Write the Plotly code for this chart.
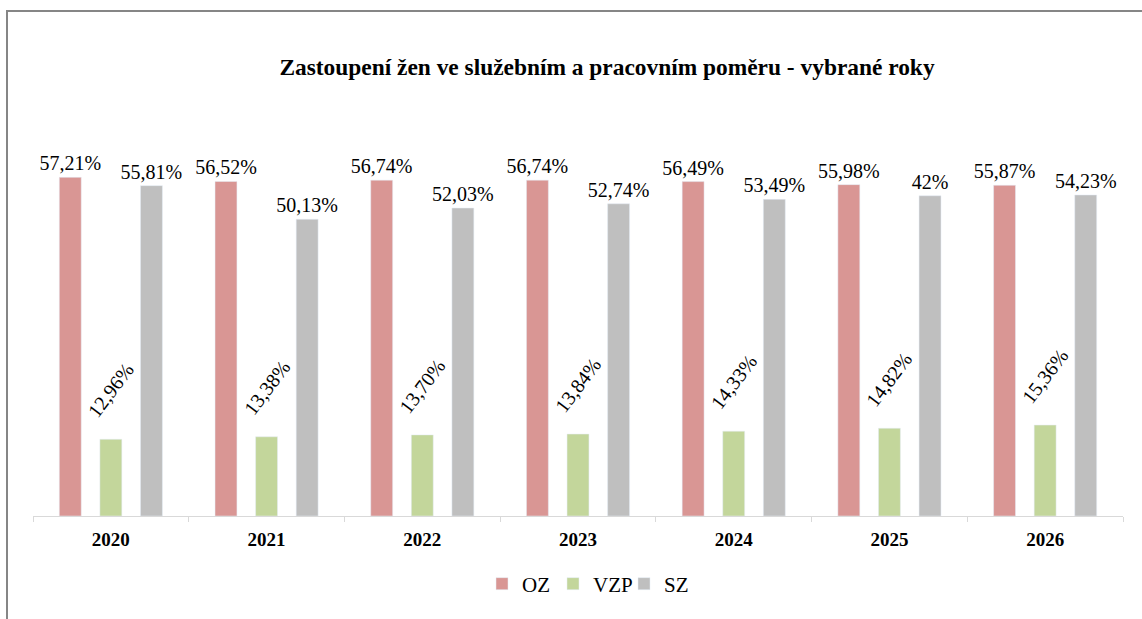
import plotly.graph_objects as go

years = ["2020", "2021", "2022", "2023", "2024", "2025", "2026"]
oz = [57.21, 56.52, 56.74, 56.74, 56.49, 55.98, 55.87]
vzp = [12.96, 13.38, 13.70, 13.84, 14.33, 14.82, 15.36]
sz = [55.81, 50.13, 52.03, 52.74, 53.49, 54.10, 54.23]
oz_labels = ["57,21%", "56,52%", "56,74%", "56,74%", "56,49%", "55,98%", "55,87%"]
vzp_labels = ["12,96%", "13,38%", "13,70%", "13,84%", "14,33%", "14,82%", "15,36%"]
sz_labels = ["55,81%", "50,13%", "52,03%", "52,74%", "53,49%", "42%", "54,23%"]

FONT = "Liberation Serif"
W, H = 1142, 619
L, R, T, B = 33, 19, 149, 103
pw = W - L - R
ph = H - T - B
LABEL_FONT = dict(family=FONT, size=20, color="#000000")

fig = go.Figure()
fig.add_trace(go.Bar(name="OZ", x=years, y=oz, text=oz_labels, marker_color="#D99694",
                     textposition="outside", textangle=0, constraintext="none",
                     cliponaxis=False, textfont=LABEL_FONT, hoverinfo="skip"))
fig.add_trace(go.Bar(name="VZP", x=years, y=vzp, marker_color="#C3D69B",
                     cliponaxis=False, hoverinfo="skip"))
fig.add_trace(go.Bar(name="SZ", x=years, y=sz, text=sz_labels, marker_color="#BFBFBF",
                     textposition="outside", textangle=0, constraintext="none",
                     cliponaxis=False, textfont=LABEL_FONT, hoverinfo="skip"))

# VZP bar is the middle bar of each group, i.e. it sits on the category centre
annotations = [
    dict(x=i, y=v, xref="x", yref="y", text=t, showarrow=False,
         textangle=-53, xanchor="center", yanchor="bottom", yshift=15,
         font=LABEL_FONT)
    for i, (v, t) in enumerate(zip(vzp, vzp_labels))
]

fig.update_layout(
    width=W, height=H,
    margin=dict(l=L, r=R, t=T, b=B),
    paper_bgcolor="white", plot_bgcolor="white",
    barmode="group", bargap=0.218, bargroupgap=0.46,
    title=dict(text="<b>Zastoupení žen ve služebním a pracovním poměru - vybrané roky</b>",
               font=dict(family=FONT, size=23.4, color="#000000"),
               x=(607 - L) / pw, xref="paper", xanchor="center",
               y=1 - 67 / H, yref="container", yanchor="middle"),
    xaxis=dict(type="category", range=[-0.5, 6.5], showline=True, linecolor="#D9D9D9", linewidth=1,
               ticks="outside", tickson="boundaries", ticklen=5, tickcolor="#D9D9D9",
               tickfont=dict(family=FONT, size=19, color="#000000"), tickangle=0,
               ticklabelstandoff=6,
               tickprefix="<b>", ticksuffix="</b>", showgrid=False),
    yaxis=dict(range=[0, 62], visible=False, showgrid=False, zeroline=False),
    showlegend=True,
    legend=dict(orientation="h", x=(482 - L) / pw, xanchor="left",
                y=(516 - 584) / ph, yanchor="middle",
                font=dict(family=FONT, size=21, color="#000000"),
                itemwidth=30, traceorder="normal", entrywidth=26, entrywidthmode="pixels"),
    annotations=annotations,
    shapes=[dict(type="rect", xref="paper", yref="paper",
                 x0=(7 - L) / pw, x1=1.2, y0=-0.5, y1=(516 - 11) / ph,
                 line=dict(color="#868686", width=2), fillcolor="rgba(0,0,0,0)", layer="below")],
)

fig.write_html("out.html", config={"displayModeBar": False},
               post_script="document.body.style.margin='0px';")
